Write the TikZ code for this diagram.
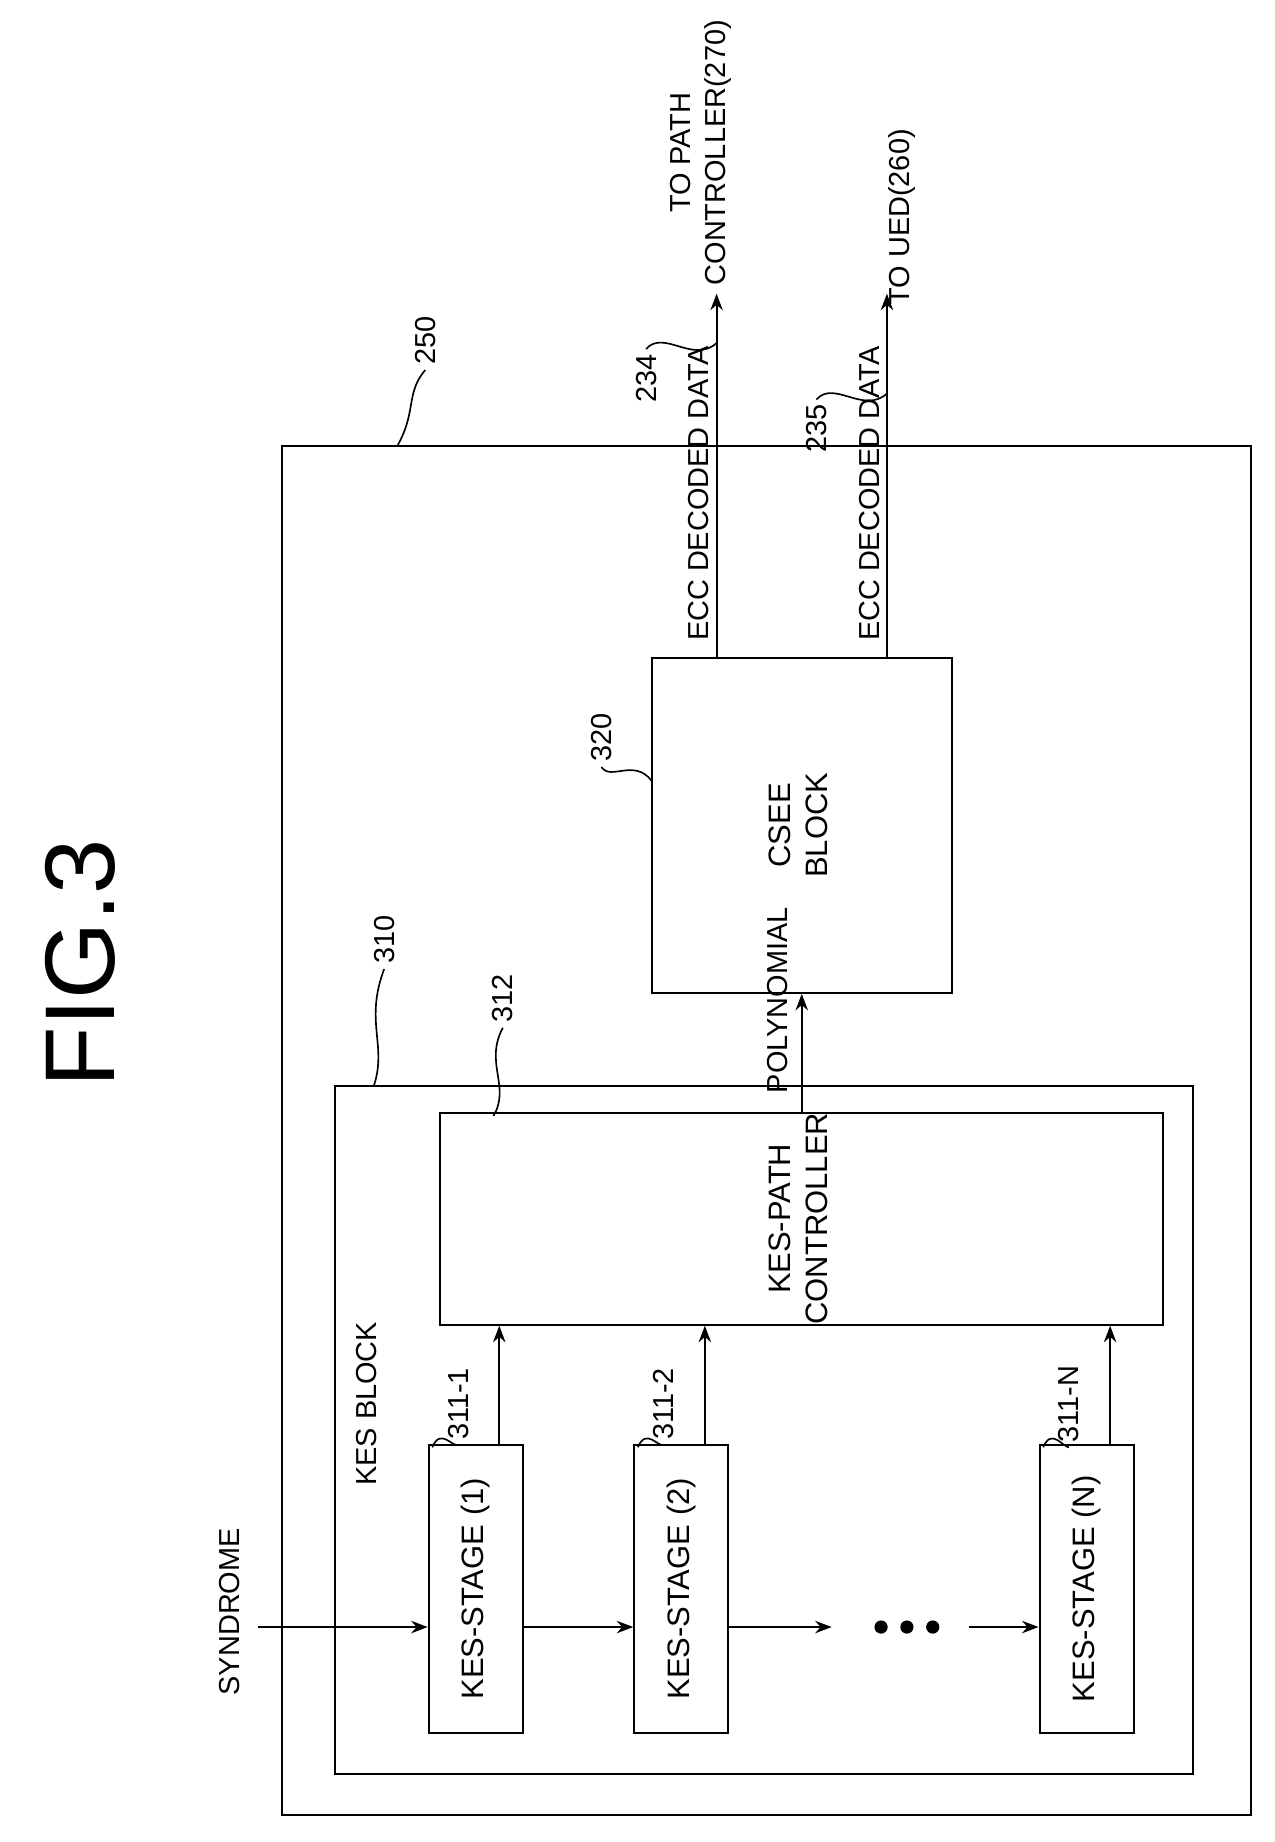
\documentclass[tikz,border=0pt]{standalone}
\usepackage{fontspec}
\setmainfont{Liberation Sans}
\usetikzlibrary{arrows.meta}
\begin{document}
\begin{tikzpicture}[x=0.01cm,y=-0.01cm,
  every path/.style={line width=0.5pt},
  blk/.style={draw,inner sep=0pt,font=\fontsize{7.5}{9}\selectfont},
  lbl/.style={font=\fontsize{7}{8.5}\selectfont,inner sep=1pt},
  sig/.style={-{Stealth[length=4pt]}},
  wave/.style={line width=0.4pt}]
\useasboundingbox (0,0) rectangle (1085,1568);

% title
\node[rotate=90,font=\fontsize{24}{26}\selectfont] (title) at (68,820) {FIG.3};

% boxes
\node[blk,minimum width=8.25cm,minimum height=11.65cm] (outer) at (652.5,962.5) {};
\node[blk,minimum width=7.3cm,minimum height=5.85cm] (kes) at (650,1217.5) {};
\node[blk,minimum width=6.15cm,minimum height=1.75cm] (ctrl) at (682.5,1037.5)
  {\rotatebox{90}{\begin{tabular}{@{}c@{}}KES-PATH\\CONTROLLER\end{tabular}}};
\node[blk,minimum width=0.8cm,minimum height=2.45cm] (st1) at (405,1352.5) {\rotatebox{90}{KES-STAGE (1)}};
\node[blk,minimum width=0.8cm,minimum height=2.45cm] (st2) at (580,1352.5) {\rotatebox{90}{KES-STAGE (2)}};
\node[blk,minimum width=0.8cm,minimum height=2.45cm] (stN) at (925,1352.5) {\rotatebox{90}{KES-STAGE (N)}};
\node[blk,minimum width=2.55cm,minimum height=2.85cm] (csee) at (682.5,702.5)
  {\rotatebox{90}{\begin{tabular}{@{}c@{}}CSEE\\BLOCK\end{tabular}}};

\node[lbl,rotate=90] (kestxt) at (312,1195) {KES BLOCK};

% syndrome chain
\node[lbl,rotate=90] (syn) at (195,1372) {SYNDROME};
\coordinate (synin) at (220,1385);
\draw[sig] (synin) -- (st1.west |- synin);
\draw[sig] (st1.east |- synin) -- (st2.west |- synin);
\coordinate (dotl) at (708,1385);
\coordinate (dotr) at (825,1385);
\draw[sig] (st2.east |- synin) -- (dotl);
\foreach \x in {750,772,794}
  \fill (\x,1385) circle (1.6pt);
\draw[sig] (dotr) -- (stN.west |- synin);

% stage to controller
\foreach \s in {st1,st2,stN}
  \draw[sig] ([xshift=0.2cm]\s.north) -- ([xshift=0.2cm]\s.north |- ctrl.south);

% polynomial
\draw[sig] (ctrl.north) -- (ctrl.north |- csee.south);
\node[lbl,rotate=90,anchor=west] (poly) at (662,935) {POLYNOMIAL};

% outputs
\coordinate (out1) at (610,250);
\coordinate (out2) at (755,250);
\draw[sig] (out1 |- csee.north) -- (out1);
\draw[sig] (out2 |- csee.north) -- (out2);
\node[lbl,rotate=90,anchor=west] (ecc1) at (595,550) {ECC DECODED DATA};
\node[lbl,rotate=90,anchor=west] (ecc2) at (740,550) {ECC DECODED DATA};
\node[lbl,rotate=90] (topc) at (597,130) {\begin{tabular}{@{}c@{}}TO PATH\\CONTROLLER(270)\end{tabular}};
\node[lbl,rotate=90] (toued) at (768,185) {TO UED(260)};

% reference numbers
\node[lbl,rotate=90] (n250) at (362,290) {250};
\draw[wave] (n250.west) .. controls (345,335) and (355,350) .. (338,380);
\node[lbl,rotate=90] (n310) at (327,800) {310};
\draw[wave] (n310.west) .. controls (310,870) and (330,890) .. (318,925);
\node[lbl,rotate=90] (n312) at (428,850) {312};
\draw[wave] (n312.west) .. controls (412,905) and (435,925) .. (420,950);
\node[lbl,rotate=90] (n320) at (512,628) {320};
\draw[wave] (n320.west) .. controls (520,665) and (540,645) .. (555,665);
\node[lbl,rotate=90] (n234) at (550,322) {234};
\draw[wave] (n234.east) .. controls (565,280) and (590,310) .. (610,292);
\node[lbl,rotate=90] (n235) at (695,365) {235};
\draw[wave] (n235.east) .. controls (710,323) and (735,353) .. (755,335);
\node[lbl,rotate=90] (n3111) at (390,1195) {311-1};
\draw[wave] (n3111.west) .. controls (385,1232) and (375,1215) .. (368,1232);
\node[lbl,rotate=90] (n3112) at (565,1195) {311-2};
\draw[wave] (n3112.west) .. controls (560,1232) and (550,1215) .. (543,1232);
\node[lbl,rotate=90] (n311N) at (910,1195) {311-N};
\draw[wave] (n311N.west) .. controls (905,1232) and (895,1215) .. (888,1232);
\end{tikzpicture}
\end{document}
